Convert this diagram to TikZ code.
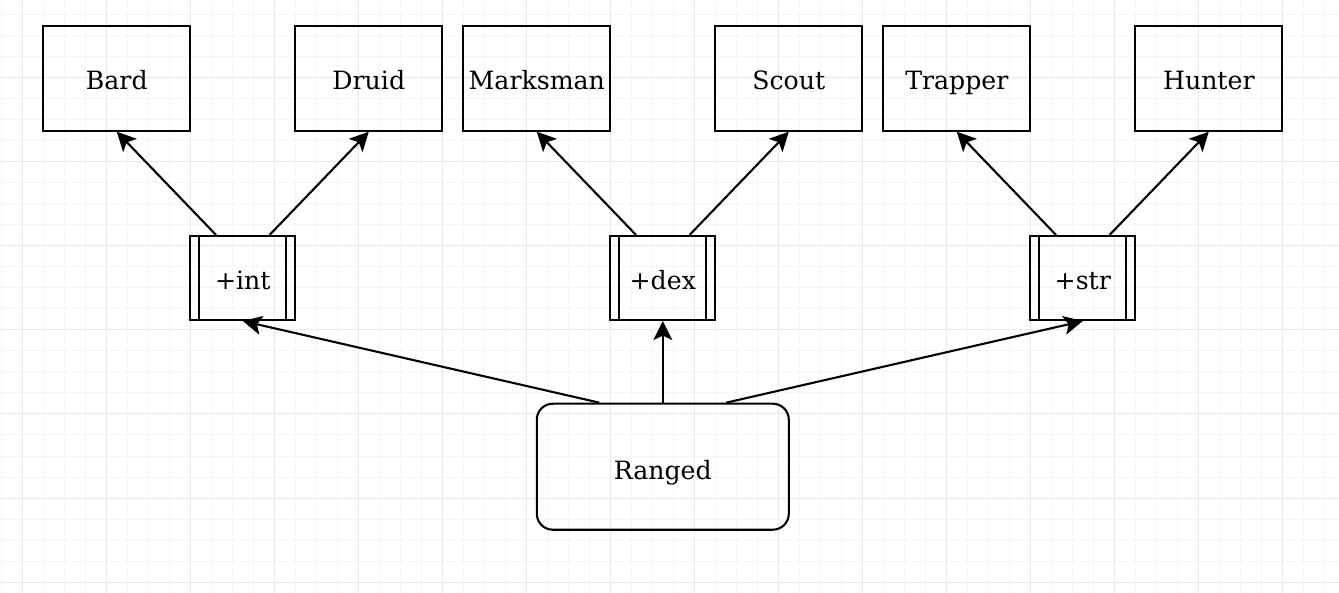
\documentclass[tikz,border=0pt]{standalone}
\usepackage{fontspec}
\setmainfont{DejaVu Serif}
\usetikzlibrary{calc,arrows.meta}
\definecolor{gridminor}{HTML}{F6F6F6}
\definecolor{gridmajor}{HTML}{E8E8E8}
\begin{document}
\begin{tikzpicture}[x=1pt,y=-1pt,
        classbox/.style={draw,line width=2.1pt,minimum width=147pt,minimum height=105pt,inner sep=0pt,text height=23.6pt,text depth=0pt},
        statbox/.style={draw,line width=2.1pt,minimum width=105pt,minimum height=84pt,inner sep=0pt,text height=23.6pt,text depth=0pt},
        rootbox/.style={draw,line width=2.1pt,rounded corners=16pt,minimum width=252pt,minimum height=126pt,inner sep=0pt,text height=25pt,text depth=0pt},
        link/.style={line width=2.1pt,-{Stealth[length=19pt,width=19pt,inset=4.5pt]}},
        font=\fontsize{25.2}{30}\selectfont]
        \useasboundingbox (0,0) rectangle (1339,593);

        % Raster
        \foreach \gx in {1.3,22.3,...,1339} \draw[gridminor,line width=1pt] (\gx,0) -- (\gx,593);
        \foreach \gy in {15,36,...,593} \draw[gridminor,line width=1pt] (0,\gy) -- (1339,\gy);
        \foreach \gx in {22.3,106.3,...,1339} \draw[gridmajor,line width=1pt] (\gx,0) -- (\gx,593);
        \foreach \gy in {78,162,...,593} \draw[gridmajor,line width=1pt] (0,\gy) -- (1339,\gy);

        % Klassen
        \node[classbox] (bard) at (116.8,78.2) {Bard};
        \node[classbox] (druid) at (368.8,78.2) {Druid};
        \node[classbox] (marksman) at (536.8,78.2) {Marksman};
        \node[classbox] (scout) at (788.8,78.2) {Scout};
        \node[classbox] (trapper) at (956.8,78.2) {Trapper};
        \node[classbox] (hunter) at (1208.8,78.2) {Hunter};

        % Attribute
        \node[statbox] (int) at (242.8,278) {+int};
        \node[statbox] (dex) at (662.8,278) {+dex};
        \node[statbox] (str) at (1082.8,278) {+str};
        \foreach \s in {int,dex,str} {
            \draw[line width=2.1pt] ([xshift=10pt]\s.north west) -- ([xshift=10pt]\s.south west);
            \draw[line width=2.1pt] ([xshift=-10pt]\s.north east) -- ([xshift=-10pt]\s.south east);
        }

        \node[rootbox] (ranged) at (662.8,466.7) {Ranged};

        % Pfeile
        \draw[link] ($(ranged.north west)!0.25!(ranged.north east)$) -- (int.south);
        \draw[link] (ranged.north) -- (dex.south);
        \draw[link] ($(ranged.north west)!0.75!(ranged.north east)$) -- (str.south);

        \draw[link] ($(int.north west)!0.25!(int.north east)$) -- (bard.south);
        \draw[link] ($(int.north west)!0.75!(int.north east)$) -- (druid.south);
        \draw[link] ($(dex.north west)!0.25!(dex.north east)$) -- (marksman.south);
        \draw[link] ($(dex.north west)!0.75!(dex.north east)$) -- (scout.south);
        \draw[link] ($(str.north west)!0.25!(str.north east)$) -- (trapper.south);
        \draw[link] ($(str.north west)!0.75!(str.north east)$) -- (hunter.south);
    \end{tikzpicture}
\end{document}
